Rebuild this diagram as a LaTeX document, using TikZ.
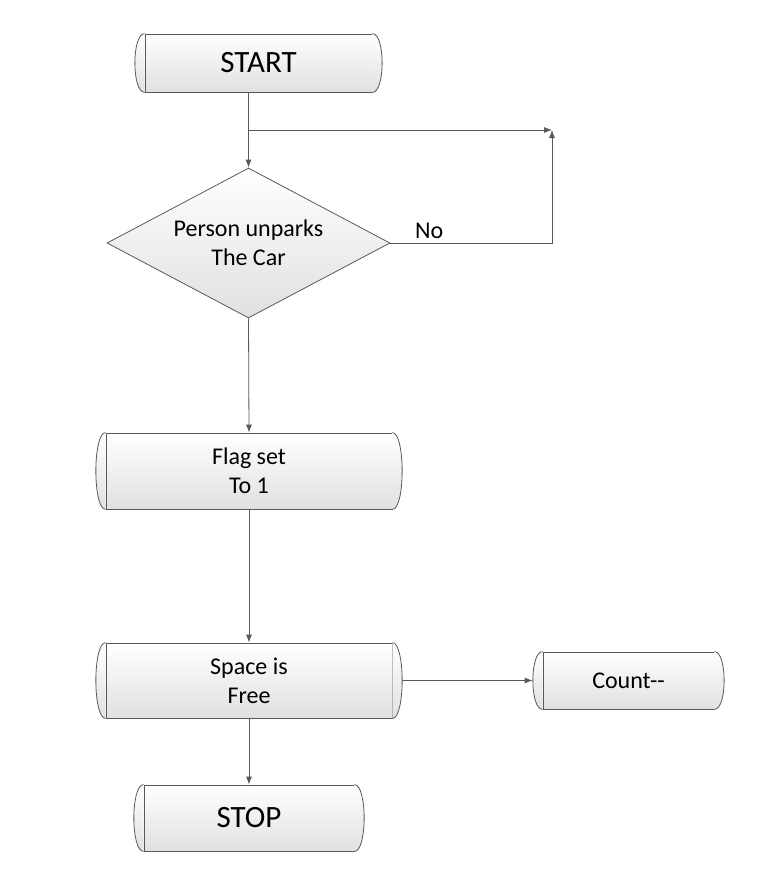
\documentclass[tikz,border=0pt]{standalone}
\usepackage{fontspec}
\setmainfont{Carlito}
\usetikzlibrary{arrows.meta}
\usetikzlibrary{positioning}
\usetikzlibrary{shapes.geometric}
\definecolor{lgray}{rgb}{0.35, 0.35, 0.35}
\definecolor{sgray}{rgb}{0.88, 0.88, 0.88}

\tikzset{
  boxshade/.style={top color=white, bottom color=sgray, draw=lgray, line width=0.8pt},
  proc/.style={boxshade, rectangle, inner sep=0pt, font=\fontsize{24}{29}\selectfont, align=center},
  decide/.style={boxshade, diamond, inner sep=0pt, aspect=1.89, minimum width=283pt, minimum height=150pt, font=\fontsize{24}{29}\selectfont, align=center},
  flow/.style={draw=lgray, line width=0.8pt, -{Latex[length=8pt,width=6pt]}}
}
\newcommand{\bulge}[1]{%
  \shade[top color=white, bottom color=sgray] (#1.north west) .. controls +(-13,0) and +(-13,0) .. (#1.south west) -- cycle;
  \shade[top color=white, bottom color=sgray] (#1.north east) .. controls +(13,0) and +(13,0) .. (#1.south east) -- cycle;
  \draw[draw=lgray, line width=0.8pt] (#1.north west) .. controls +(-13,0) and +(-13,0) .. (#1.south west);
  \draw[draw=lgray, line width=0.8pt] (#1.north east) .. controls +(13,0) and +(13,0) .. (#1.south east);
}

\begin{document}
\begin{tikzpicture}[x=1pt, y=-1pt]
  \useasboundingbox (0, 0) rectangle (774, 884);

  \node [proc, minimum width=227pt, minimum height=58pt, font=\fontsize{31}{36}\selectfont] (start) at (258.5, 63) {START};
  \node [decide] (diam) at (248.5, 243) {Person unparks\\The Car};
  \node [proc, minimum width=286pt, minimum height=76pt] (flag) at (249, 471) {Flag set\\To 1};
  \node [proc, minimum width=286pt, minimum height=75pt] (space) at (249, 680.5) {Space is\\Free};
  \node [proc, minimum width=171pt, minimum height=57pt] (count) at (628.5, 680.5) {Count{-}{-}};
  \node [proc, minimum width=210pt, minimum height=66pt, font=\fontsize{31}{36}\selectfont] (stop) at (249, 818) {STOP};
  \bulge{start} \bulge{flag} \bulge{space} \bulge{count} \bulge{stop}

  \coordinate (split) at (diam.north |- 0, 130);
  \coordinate (meet) at (552, 130);

  \draw [flow] (diam.north |- start.south) -- (diam.north);
  \draw [flow] (split) -- (meet);
  \draw [flow] (diam.east) -- (diam.east -| meet) node [pos=0.24, above, inner sep=4pt, font=\fontsize{24}{29}\selectfont] {No} -- (meet);
  \draw [flow] (diam.south) -- (flag.north);
  \draw [flow] (flag.south) -- (space.north);
  \draw [flow] ([xshift=10pt]space.east) -- ([xshift=-10pt]count.west);
  \draw [flow] (space.south) -- (stop.north);
\end{tikzpicture}
\end{document}
